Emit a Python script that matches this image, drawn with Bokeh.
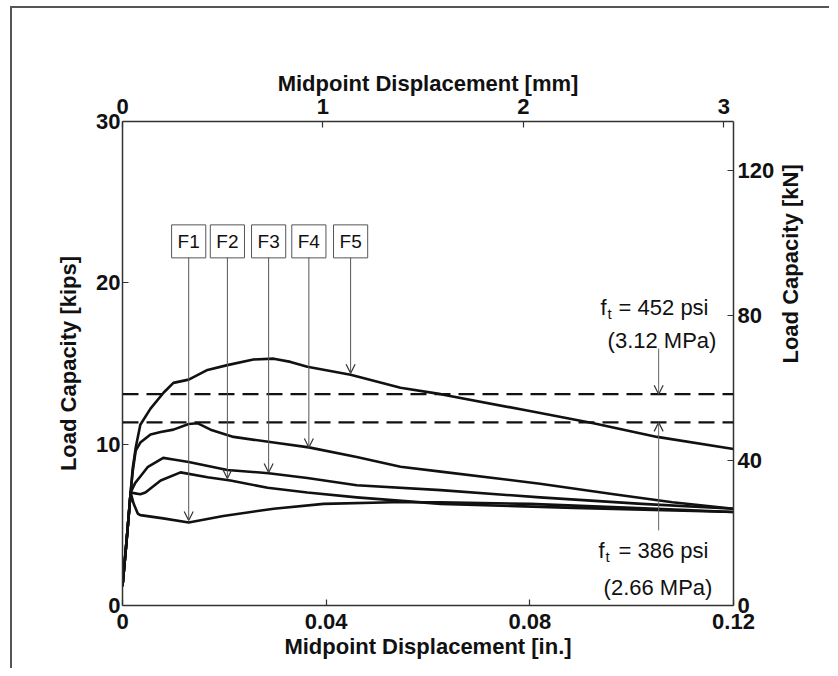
import math
from bokeh.plotting import figure
from bokeh.models import Range1d, LinearAxis, FixedTicker, Span, Label, Arrow, OpenHead
from bokeh.embed import file_html
from bokeh.resources import INLINE

# ---------------- data (midpoint displacement [in.], load [kips]) ----------------
f1_x = [0.0, 0.0008, 0.0016, 0.0022, 0.003, 0.0035, 0.008, 0.013, 0.0198, 0.0297, 0.0395, 0.053, 0.0625, 0.08, 0.10, 0.12]
f1_y = [1.2, 4.0, 7.0, 6.3, 5.7, 5.6, 5.4, 5.15, 5.55, 6.0, 6.3, 6.4, 6.4, 6.3, 6.05, 5.8]

f2_x = [0.0, 0.0008, 0.0016, 0.0025, 0.0035, 0.0045, 0.0075, 0.0114, 0.0167, 0.0212, 0.0285, 0.0363, 0.046, 0.0625, 0.0886, 0.12]
f2_y = [1.2, 4.0, 7.0, 6.95, 6.9, 7.0, 7.75, 8.25, 7.95, 7.75, 7.3, 7.0, 6.7, 6.3, 6.05, 5.8]

f3_x = [0.0, 0.0008, 0.0016, 0.0025, 0.0035, 0.005, 0.008, 0.010, 0.013, 0.0206, 0.0287, 0.0363, 0.046, 0.0625, 0.082, 0.102, 0.12]
f3_y = [1.2, 4.0, 7.0, 7.6, 8.0, 8.6, 9.15, 9.05, 8.9, 8.4, 8.2, 7.9, 7.45, 7.15, 6.7, 6.3, 6.0]

f4_x = [0.0, 0.0008, 0.0016, 0.002, 0.0026, 0.0035, 0.0055, 0.0075, 0.010, 0.013, 0.0147, 0.0173, 0.0218, 0.0297, 0.0366, 0.046, 0.0546, 0.0625, 0.082, 0.0965, 0.108, 0.12]
f4_y = [1.2, 4.0, 7.0, 8.3, 9.6, 10.1, 10.6, 10.75, 10.9, 11.25, 11.3, 10.9, 10.45, 10.1, 9.8, 9.2, 8.6, 8.3, 7.55, 6.9, 6.4, 6.0]

f5_x = [0.0, 0.0008, 0.0016, 0.002, 0.0026, 0.0035, 0.0055, 0.0081, 0.010, 0.013, 0.0167, 0.0206, 0.0257, 0.0297, 0.033, 0.0363, 0.0448, 0.0546, 0.0625, 0.08, 0.0925, 0.105, 0.12]
f5_y = [1.2, 4.0, 7.0, 8.5, 9.8, 11.2, 12.2, 13.2, 13.8, 14.0, 14.6, 14.9, 15.25, 15.3, 15.1, 14.8, 14.3, 13.5, 13.1, 12.05, 11.3, 10.45, 9.7]

series_names = ["F1", "F2", "F3", "F4", "F5"]
series_label_x = [0.013, 0.0206, 0.0287, 0.0366, 0.0448]
series_arrow_tip_y = [5.27, 7.87, 8.25, 9.8, 14.4]

ft_psi = ["452", "386"]
ft_mpa = ["3.12", "2.66"]
ft_load = [13.1, 11.35]

x_ticks = [0, 0.04, 0.08, 0.12]
x_tick_labels = ["0", "0.04", "0.08", "0.12"]
y_ticks = [0, 10, 20, 30]
mm_ticks = [0, 1, 2, 3]
kn_ticks = [0, 40, 80, 120]

IN_TO_MM = 25.4
KIP_TO_KN = 4.448222

FONT = "Liberation Sans"
INK = "#111111"
AX = "#333333"

p = figure(frame_width=611, frame_height=484,
           x_range=Range1d(0, 0.12), y_range=Range1d(0, 30),
           output_backend="svg", toolbar_location=None,
           min_border_left=110, min_border_right=96, min_border_top=113, min_border_bottom=63,
           background_fill_color="white", border_fill_color="white",
           styles={"border-left": "2px solid #555", "border-top": "2px solid #555",
                   "margin-left": "10px", "margin-top": "6px"})
p.outline_line_color = None
p.xgrid.visible = False
p.ygrid.visible = False

bottom_axis = p.below[0]
left_axis = p.left[0]

p.extra_x_ranges = {"mm": Range1d(0, 0.12 * IN_TO_MM)}
p.extra_y_ranges = {"kN": Range1d(0, 30 * KIP_TO_KN)}

top_axis = LinearAxis(x_range_name="mm")
right_axis = LinearAxis(y_range_name="kN")
p.add_layout(top_axis, "above")
p.add_layout(right_axis, "right")


def style_axis(ax, ticks, labels, standoff):
    ax.ticker = FixedTicker(ticks=ticks)
    ax.major_label_overrides = {t: l for t, l in zip(ticks, labels)}
    ax.major_tick_in = 6
    ax.major_tick_out = 0
    ax.minor_tick_line_color = None
    ax.axis_line_color = AX
    ax.axis_line_width = 1.5
    ax.major_tick_line_color = AX
    ax.major_tick_line_width = 1.2
    ax.major_label_standoff = standoff
    ax.major_label_text_font = FONT
    ax.major_label_text_font_size = "22px"
    ax.major_label_text_font_style = "bold"
    ax.major_label_text_color = INK
    ax.axis_label_text_font = FONT
    ax.axis_label_text_font_size = "22px"
    ax.axis_label_text_font_style = "bold"
    ax.axis_label_text_color = INK


style_axis(bottom_axis, x_ticks, x_tick_labels, 8)
style_axis(left_axis, y_ticks, [str(t) for t in y_ticks], 2)
style_axis(top_axis, mm_ticks, [str(t) for t in mm_ticks], 8)
style_axis(right_axis, kn_ticks, [str(t) for t in kn_ticks], 4)

bottom_axis.axis_label = "Midpoint Displacement [in.]"
bottom_axis.axis_label_standoff = 2
left_axis.axis_label = "Load Capacity [kips]"
left_axis.axis_label_standoff = 12
top_axis.axis_label = "Midpoint Displacement [mm]"
top_axis.axis_label_standoff = 0
right_axis.axis_label = "Load Capacity [kN]"
right_axis.axis_label_standoff = 13
try:
    right_axis.axis_label_orientation = math.pi / 2
except Exception:
    pass

# load-displacement curves
for xs, ys in [(f1_x, f1_y), (f2_x, f2_y), (f3_x, f3_y), (f4_x, f4_y), (f5_x, f5_y)]:
    p.line(xs, ys, line_color=INK, line_width=2.6, line_join="round")

# cracking-strength reference lines
for lvl in ft_load:
    p.add_layout(Span(location=lvl, dimension="width", line_color=INK,
                      line_width=2.4, line_dash="16 8"))

# series labels with arrows
for name, lx, tip in zip(series_names, series_label_x, series_arrow_tip_y):
    p.add_layout(Label(x=lx, y=22.57, text=name, text_align="center", text_baseline="middle",
                       text_font=FONT, text_font_size="19px", text_color=INK,
                       border_line_color="#555555", border_line_width=1,
                       background_fill_color="white", padding=6))
    p.add_layout(Arrow(x_start=lx, y_start=21.55, x_end=lx, y_end=tip,
                       line_color="#555555", line_width=1,
                       end=OpenHead(size=9, line_color="#333333", line_width=1.2)))

# f_t annotations
ann = [
    # (x of "f", baseline y, second-line y offset, main-text x offset, second-line x offset, arrow y start)
    (0.0939, 18.47, -33, 18, 7, 15.93),
    (0.0935, 3.41, -37, 20, 5, 4.65),
]
arrow_x = 0.1053
for (fx, fy, dy2, dx_main, dx2, ay), psi, mpa, lvl in zip(ann, ft_psi, ft_mpa, ft_load):
    common = dict(text_font=FONT, text_color=INK, text_baseline="alphabetic", text_align="left")
    p.add_layout(Label(x=fx, y=fy, text="f", text_font_size="22px", **common))
    p.add_layout(Label(x=fx, y=fy, x_offset=7, y_offset=-6, text="t", text_font_size="15px", **common))
    p.add_layout(Label(x=fx, y=fy, x_offset=dx_main, text="= " + psi + " psi", text_font_size="22px", **common))
    p.add_layout(Label(x=fx, y=fy, x_offset=dx2, y_offset=dy2, text="(" + mpa + " MPa)",
                       text_font_size="22px", **common))
    p.add_layout(Arrow(x_start=arrow_x, y_start=ay, x_end=arrow_x, y_end=lvl,
                       line_color="#666666", line_width=1,
                       end=OpenHead(size=9, line_color="#333333", line_width=1.2)))

open("out.html", "w").write(file_html(p, INLINE))
